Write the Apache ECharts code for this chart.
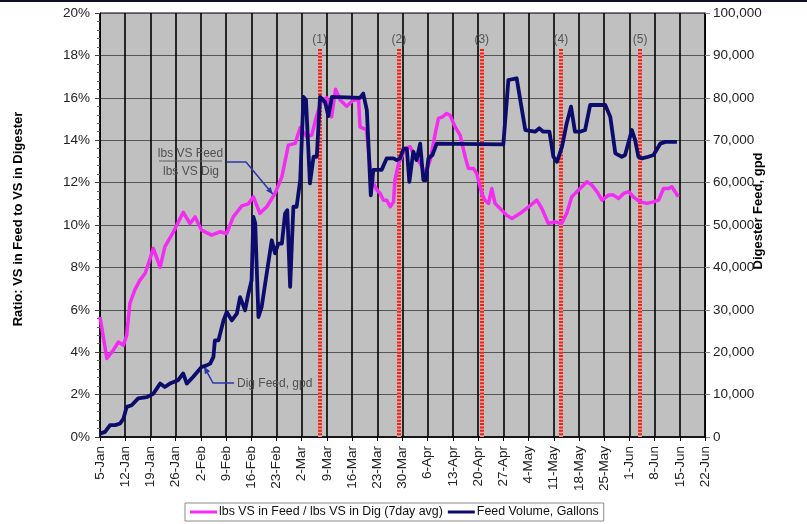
<!DOCTYPE html>
<html>
<head>
<meta charset="utf-8">
<script src="https://cdn.jsdelivr.net/npm/echarts@6/dist/echarts.min.js"></script>
<style>
  html, body { margin: 0; padding: 0; background: #ffffff; }
  #chart { width: 807px; height: 524px; }
</style>
</head>
<body>
<div id="chart"></div>
<script>
const FONT = '"Liberation Sans", Arial, Helvetica, sans-serif';

// Weekly tick labels, starting 5-Jan (x values are days after 5-Jan)
const xTickLabels = ['5-Jan', '12-Jan', '19-Jan', '26-Jan', '2-Feb', '9-Feb', '16-Feb', '23-Feb',
  '2-Mar', '9-Mar', '16-Mar', '23-Mar', '30-Mar', '6-Apr', '13-Apr', '20-Apr', '27-Apr',
  '4-May', '11-May', '18-May', '25-May', '1-Jun', '8-Jun', '15-Jun', '22-Jun'];

// Numbered events (days after 5-Jan)
const eventDays = [61, 83, 106, 128, 150];
const eventLabels = ['(1)', '(2)', '(3)', '(4)', '(5)'];

// lbs VS in feed / lbs VS in digester, 7-day average: [day, %]
const ratioPoints = [
  [0, 5.66], [1.9, 3.7], [3.7, 4.1], [5.1, 4.48], [6.5, 4.33], [7.4, 4.8], [8.3, 6.3],
  [9.7, 6.95], [11.1, 7.4], [12.5, 7.71], [13.5, 8.2], [14.8, 8.9], [16.7, 8.0], [18.0, 8.97],
  [20.4, 9.68], [23.1, 10.6], [25.0, 10.07], [26.4, 10.38], [28.2, 9.76], [31.0, 9.52],
  [33.3, 9.68], [35.2, 9.6], [37.0, 10.38], [39.4, 10.9], [41.2, 11.0], [42.6, 11.33],
  [44.4, 10.55], [46.3, 10.86], [48.6, 11.49], [50.5, 12.27], [52.3, 13.77], [54.2, 13.85],
  [55.6, 14.6], [57.4, 14.16], [58.8, 14.24], [60.2, 15.18], [61.6, 15.9], [63.0, 16.0],
  [64.3, 15.1], [65.4, 16.4], [66.7, 15.9], [68.5, 15.6], [70.4, 15.9], [71.8, 15.9],
  [72.2, 14.63], [73.1, 14.56], [74.0, 14.5], [75.0, 12.74], [75.9, 11.96], [76.9, 11.65],
  [77.8, 11.49], [78.7, 11.17], [79.6, 11.17], [80.6, 10.86], [81.5, 11.09], [81.9, 12.12],
  [82.9, 12.9], [83.8, 13.22], [84.7, 13.61], [86.1, 13.69], [87.5, 13.22], [88.9, 12.9],
  [90.3, 12.43], [91.7, 13.06], [93.1, 14.32], [94.0, 15.03], [95.1, 15.1], [96.3, 15.26],
  [97.2, 15.18], [98.6, 14.63], [100.0, 14.24], [101.4, 13.22], [102.3, 12.67], [103.7, 12.67],
  [104.6, 12.43], [106.0, 11.49], [106.9, 11.17], [107.9, 11.02], [108.8, 11.72], [109.7, 11.02],
  [111.1, 10.78], [113.0, 10.45], [114.4, 10.31], [116.7, 10.55], [119.0, 10.86], [121.3, 11.17],
  [122.7, 10.78], [124.5, 10.07], [126.4, 10.15], [128.2, 10.07], [129.6, 10.55], [131.0, 11.33],
  [132.4, 11.57], [133.8, 11.8], [135.2, 12.04], [136.6, 11.88], [138.0, 11.57], [139.4, 11.17],
  [141.2, 11.41], [142.6, 11.41], [144.0, 11.25], [145.4, 11.49], [146.8, 11.57], [148.1, 11.33],
  [150.0, 11.09], [151.9, 11.02], [153.7, 11.09], [155.1, 11.17], [156.5, 11.72], [157.9, 11.72],
  [158.8, 11.8], [159.7, 11.57], [160.6, 11.33]
];

// Digester feed volume, gallons per day: [day, gpd]
const feedPoints = [
  [0, 800], [1.4, 1200], [2.8, 2800], [4.2, 2800], [5.6, 3200], [6.5, 4300], [7.4, 7100],
  [8.8, 7500], [10.6, 9100], [13.0, 9400], [14.8, 10200], [16.7, 12600], [18.0, 11800],
  [19.4, 12600], [21.7, 13400], [23.1, 15000], [24.1, 12600], [25.9, 14200], [28.2, 16500],
  [29.6, 16900], [30.6, 17300], [31.5, 18900], [31.9, 22800], [32.9, 22800], [34.3, 27500],
  [35.2, 29500], [36.6, 27500], [38.0, 29100], [38.9, 33000], [40.3, 29900], [41.2, 33800],
  [42.1, 37000], [42.6, 51900], [43.1, 50400], [44.0, 28300], [44.9, 30700], [46.3, 38600],
  [47.7, 46400], [48.6, 43300], [49.5, 45600], [50.5, 45600], [51.4, 52700], [52.0, 53500],
  [52.8, 35400], [53.7, 54300], [54.6, 54300], [55.6, 60600], [56.5, 80200], [57.2, 79500],
  [58.3, 59800], [59.3, 66100], [60.2, 66100], [61.1, 80200], [62.5, 79000], [63.4, 75700],
  [64.4, 80200], [72.2, 80000], [73.1, 81000], [74.1, 77100], [75.2, 57000], [75.9, 63000],
  [78.2, 63000], [79.6, 65700], [81.5, 65700], [82.4, 65300], [83.3, 65700], [84.3, 68000],
  [85.2, 68000], [85.9, 60200], [87.0, 67300], [87.9, 65300], [88.9, 69200], [89.8, 60600],
  [90.5, 60600], [91.2, 65700], [92.3, 66500], [93.5, 69200], [112.0, 69000], [113.4, 84200],
  [115.7, 84600], [116.7, 79500], [118.1, 72400], [120.8, 72000], [122.0, 72800], [123.1, 72000],
  [124.8, 72000], [125.9, 66100], [126.9, 64900], [128.3, 68500], [129.6, 74000], [130.8, 77900],
  [131.9, 72000], [133.3, 72000], [134.7, 72400], [136.1, 78300], [140.3, 78300], [141.7, 75500],
  [143.1, 66900], [144.9, 66100], [145.8, 66500], [147.7, 72400], [148.6, 70000], [149.5, 66100],
  [150.5, 65700], [152.3, 66100], [153.7, 66500], [155.6, 69200], [156.9, 69600], [160.2, 69600]
];

const RATIO_NAME = 'lbs VS in Feed / lbs VS in Dig (7day avg)';
const FEED_NAME = 'Feed Volume, Gallons';
const MAGENTA = '#f22cf2';
const NAVY = '#0c0c6c';

function thousands(v) {
  return String(v).replace(/\B(?=(\d{3})+(?!\d))/g, ',');
}

// Each event marker: a pale red base line with a red dotted line over it
const eventLineData = [];
eventDays.forEach(function (d, i) {
  eventLineData.push([
    { coord: [d, 18.3], lineStyle: { color: '#f3aaa2', type: 'solid', width: 4 }, label: { show: false } },
    { coord: [d, 0] }
  ]);
  eventLineData.push([
    { coord: [d, 18.3], lineStyle: { color: '#e4261d', type: [2, 1.4], width: 4 },
      label: { show: true, formatter: eventLabels[i] } },
    { coord: [d, 0] }
  ]);
});

const chart = echarts.init(document.getElementById('chart'), null, { renderer: 'canvas' });

chart.setOption({
  animation: false,
  backgroundColor: '#ffffff',
  textStyle: { fontFamily: FONT },
  grid: {
    left: 100, right: 102, top: 13, bottom: 87,
    show: true, backgroundColor: '#c0c0c0', borderColor: '#000', borderWidth: 1
  },
  legend: {
    data: [RATIO_NAME, FEED_NAME],
    left: 185, top: 503,
    itemWidth: 27, itemHeight: 3, itemGap: 5,
    icon: 'rect',
    padding: [3, 5, 3, 5],
    borderColor: '#8a8a8a', borderWidth: 1,
    textStyle: { fontSize: 12.4, color: '#111', fontFamily: FONT, padding: [0, 0, 0, -3] }
  },
  xAxis: {
    type: 'value', min: 0, max: 168, interval: 7,
    axisLine: { show: true, lineStyle: { color: '#000', width: 1.5 } },
    axisTick: { show: true, length: 4, lineStyle: { color: '#000' } },
    axisLabel: {
      rotate: 90, margin: 9, fontSize: 13.5, color: '#222', fontFamily: FONT,
      showMinLabel: true, showMaxLabel: true,
      formatter: function (v) { return xTickLabels[Math.round(v / 7)]; }
    },
    splitLine: { show: true, lineStyle: { color: '#000', width: 1.6 } }
  },
  yAxis: [
    {
      type: 'value', min: 0, max: 20, interval: 2, position: 'left',
      axisLine: { show: true, lineStyle: { color: '#000', width: 1 } },
      axisTick: { show: true, length: 5, lineStyle: { color: '#444' } },
      minorTick: { show: true, splitNumber: 5, length: 3, lineStyle: { color: '#666' } },
      axisLabel: { formatter: '{value}%', margin: 10, fontSize: 13.5, color: '#222', fontFamily: FONT },
      splitLine: { show: true, lineStyle: { color: '#555', width: 1 } }
    },
    {
      type: 'value', min: 0, max: 100000, interval: 10000, position: 'right',
      axisLine: { show: true, lineStyle: { color: '#000', width: 1 } },
      axisTick: { show: true, length: 5, lineStyle: { color: '#888' } },
      axisLabel: { formatter: thousands, margin: 8, fontSize: 13.5, color: '#222', fontFamily: FONT },
      splitLine: { show: false }
    }
  ],
  series: [
    {
      type: 'line', name: 'events', yAxisIndex: 0, data: [], z: 1, silent: true,
      markLine: {
        silent: true, z: 1, symbol: ['none', 'none'], animation: false,
        label: { position: 'start', distance: 3, color: '#555', fontSize: 12, fontFamily: FONT },
        data: eventLineData
      }
    },
    {
      type: 'line', name: RATIO_NAME, yAxisIndex: 0, data: ratioPoints,
      symbol: 'none', showSymbol: false, z: 3,
      lineStyle: { color: MAGENTA, width: 3.5, join: 'round' },
      itemStyle: { color: MAGENTA }
    },
    {
      type: 'line', name: FEED_NAME, yAxisIndex: 1, data: feedPoints,
      symbol: 'none', showSymbol: false, z: 4,
      lineStyle: { color: NAVY, width: 3.8, join: 'round' },
      itemStyle: { color: NAVY }
    }
  ]
});

// Callout arrows point at positions on the plotted lines
function arrowHead(from, tip, len, half) {
  const dx = tip[0] - from[0], dy = tip[1] - from[1];
  const L = Math.hypot(dx, dy) || 1;
  const ux = dx / L, uy = dy / L;
  const bx = tip[0] - ux * len, by = tip[1] - uy * len;
  return [tip, [bx - uy * half, by + ux * half], [bx + uy * half, by - ux * half]];
}

const ARROW = '#2a38a8';
const ratioTip = chart.convertToPixel({ xAxisIndex: 0, yAxisIndex: 0 }, [48.0, 11.45]);
const feedTip = chart.convertToPixel({ xAxisIndex: 0, yAxisIndex: 1 }, [28.9, 16600]);
const ratioElbow = [246, 162];
const feedElbow = [213, 383];

chart.setOption({
  graphic: [
    { type: 'rect', shape: { x: 0, y: 0, width: 807, height: 2 }, style: { fill: '#0e0e28' }, silent: true },
    {
      type: 'text', x: 18, y: 219, rotation: Math.PI / 2,
      style: { text: 'Ratio: VS in Feed to VS in Digester', align: 'center', verticalAlign: 'middle',
        font: 'bold 13px ' + FONT, fill: '#000' }
    },
    {
      type: 'text', x: 758, y: 211, rotation: Math.PI / 2,
      style: { text: 'Digester Feed, gpd', align: 'center', verticalAlign: 'middle',
        font: 'bold 13px ' + FONT, fill: '#000' }
    },
    {
      type: 'text', x: 190.5, y: 154,
      style: { text: 'lbs VS Feed', align: 'center', verticalAlign: 'middle', font: '12px ' + FONT, fill: '#505050' }
    },
    { type: 'line', shape: { x1: 159, y1: 161, x2: 222, y2: 161 }, style: { stroke: '#606060', lineWidth: 1 } },
    {
      type: 'text', x: 191, y: 172,
      style: { text: 'lbs VS Dig', align: 'center', verticalAlign: 'middle', font: '12px ' + FONT, fill: '#505050' }
    },
    {
      type: 'polyline', shape: { points: [[227, 162], ratioElbow, ratioTip] },
      style: { stroke: ARROW, lineWidth: 1.5, fill: null }
    },
    { type: 'polygon', shape: { points: arrowHead(ratioElbow, ratioTip, 7, 3) }, style: { fill: ARROW } },
    {
      type: 'text', x: 237, y: 384,
      style: { text: 'Dig Feed, gpd', align: 'left', verticalAlign: 'middle', font: '12px ' + FONT, fill: '#505050' }
    },
    {
      type: 'polyline', shape: { points: [[234, 383], feedElbow, feedTip] },
      style: { stroke: ARROW, lineWidth: 1.5, fill: null }
    },
    { type: 'polygon', shape: { points: arrowHead(feedElbow, feedTip, 7, 3) }, style: { fill: ARROW } }
  ]
});
</script>
</body>
</html>
